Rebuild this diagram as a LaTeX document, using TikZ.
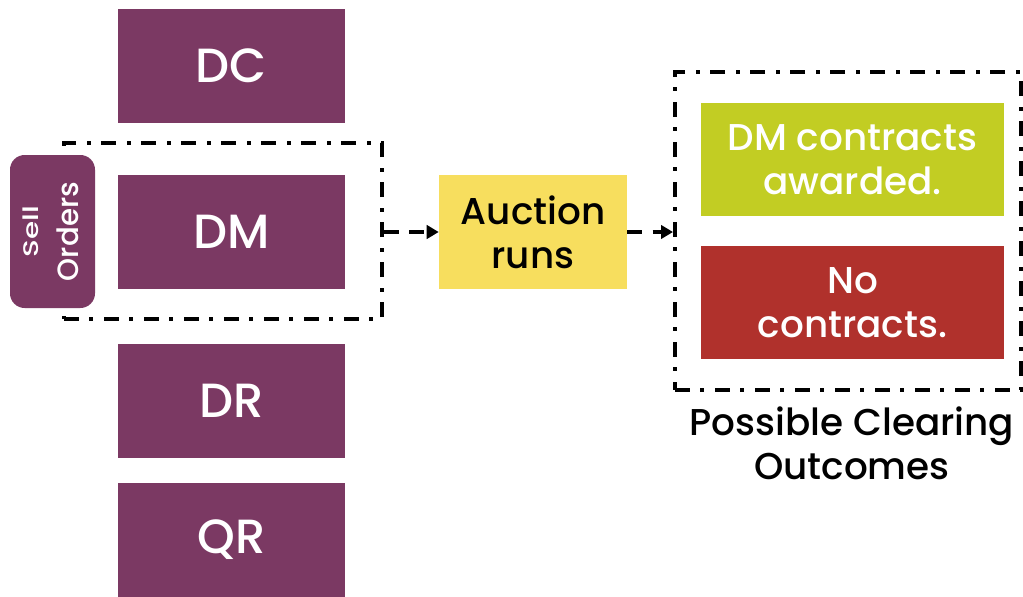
\documentclass[tikz,border=0pt]{standalone}
\usepackage{fontspec}
\setmainfont{Poppins}[UprightFont=* Medium]
\usetikzlibrary{arrows.meta}
\definecolor{plum}{RGB}{123,57,99}
\definecolor{sunny}{RGB}{247,222,94}
\definecolor{lime}{RGB}{194,205,35}
\definecolor{brick}{RGB}{176,49,44}
\tikzset{
  px/.style={x=0.75pt,y=-0.75pt},
  market/.style={fill=plum,text=white,inner sep=0pt,minimum width=170.25pt,
    minimum height=85.5pt,font=\fontsize{36}{40}\selectfont},
  outcome/.style={inner sep=0pt,text=white,align=center,minimum width=227.25pt,
    minimum height=84.75pt,font=\fontsize{28}{33}\selectfont},
  groupbox/.style={draw=black,line width=3pt,inner sep=0pt,
    dash pattern=on 11pt off 8pt on 3pt off 8pt},
  flow/.style={draw=black,line width=3pt,dash pattern=on 11pt off 8pt,
    -{Triangle[length=9pt,width=10pt]},shorten >=0pt}
}
\begin{document}
\begin{tikzpicture}[px]
\useasboundingbox (0,0) rectangle (1023,596);

% product markets
\node[market] (dc) at (231.5,66) {DC};
\node[groupbox,minimum width=238.5pt,minimum height=132pt] (grp) at (223,231) {};
\node[market] (dm) at (231.5,232) {DM};
\node[market] (dr) at (231.5,401) {DR};
\node[market] (qr) at (231.5,539.5) {QR};

% sell orders tab
\node[fill=plum,rounded corners=11pt,inner sep=0pt,
  minimum width=63.75pt,minimum height=114.75pt] (sell) at (52.5,231.5) {};
\node[text=white,rotate=90,inner sep=0pt,align=center,
  font=\fontsize{22}{30}\selectfont] (selltxt) at (51,231.5)
  {\scalebox{1}[0.72]{Sell}\\Orders};

% auction
\node[fill=sunny,inner sep=0pt,minimum width=141pt,minimum height=85.5pt,
  align=center,font=\fontsize{28}{33}\selectfont] (auc) at (533,232) {Auction\\runs};

% clearing outcomes
\node[groupbox,minimum width=259.5pt,minimum height=238.5pt] (out) at (848,231) {};
\node[outcome,fill=lime] (win) at (852.5,159.5) {DM contracts\\awarded.};
\node[outcome,fill=brick] (none) at (852.5,302.5) {No\\contracts.};
\node[align=center,font=\fontsize{28}{33}\selectfont] (cap) at (852,443)
  {Possible Clearing\\Outcomes};

% flow arrows
\draw[flow] (grp.east |- auc.west) -- (auc.west);
\draw[flow] (auc.east) -- (out.west |- auc.east);
\end{tikzpicture}
\end{document}
